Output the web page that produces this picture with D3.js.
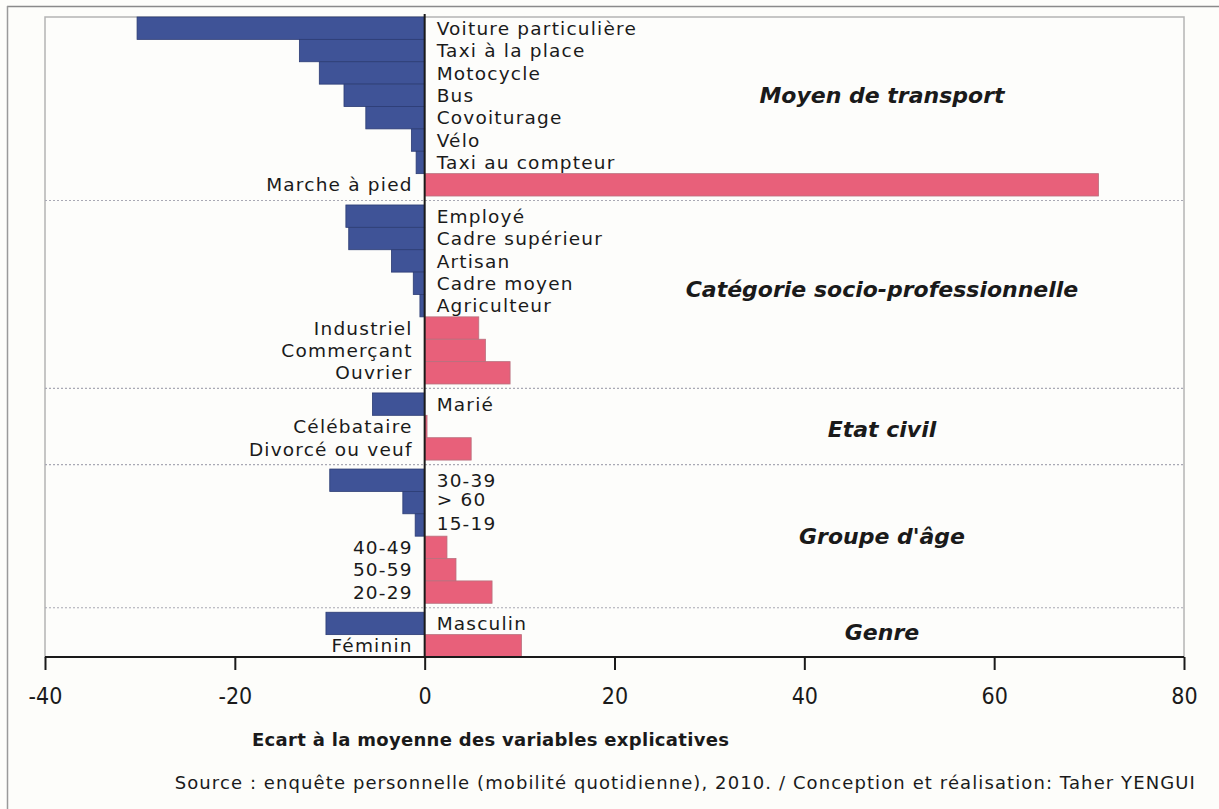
<!DOCTYPE html>
<html>
<head>
<meta charset="utf-8">
<script src="https://cdn.jsdelivr.net/npm/d3@7"></script>
<style>
  html, body { margin: 0; padding: 0; background: #fdfdfa; }
  svg { display: block; }
  text { font-family: "DejaVu Sans", sans-serif; fill: #1a1a1a; }
</style>
</head>
<body>
<svg id="chart" width="1219" height="809"></svg>
<script>
// Groups of explanatory variables, top to bottom
const groups = ["Moyen de transport", "Catégorie socio-professionnelle", "Etat civil", "Groupe d'âge", "Genre"];

const transportLabels = ["Voiture particulière", "Taxi à la place", "Motocycle", "Bus", "Covoiturage", "Vélo", "Taxi au compteur", "Marche à pied"];
const transportValues = [-30.3, -13.2, -11.1, -8.5, -6.2, -1.4, -0.9, 71.0];

const cspLabels = ["Employé", "Cadre supérieur", "Artisan", "Cadre moyen", "Agriculteur", "Industriel", "Commerçant", "Ouvrier"];
const cspValues = [-8.3, -8.0, -3.5, -1.2, -0.5, 5.7, 6.4, 9.0];

const civilLabels = ["Marié", "Célébataire", "Divorcé ou veuf"];
const civilValues = [-5.5, 0.25, 4.9];

const ageLabels = ["30-39", "> 60", "15-19", "40-49", "50-59", "20-29"];
const ageValues = [-10.0, -2.3, -1.0, 2.35, 3.3, 7.1];

const genreLabels = ["Masculin", "Féminin"];
const genreValues = [-10.4, 10.2];

const xTicks = [-40, -20, 0, 20, 40, 60, 80];
const xTitle = "Ecart à la moyenne des variables explicatives";
const sourceText = "Source : enquête personnelle (mobilité quotidienne), 2010. / Conception et réalisation: Taher YENGUI";

// Assemble rows from the arrays above
const groupLabels = [transportLabels, cspLabels, civilLabels, ageLabels, genreLabels];
const groupValues = [transportValues, cspValues, civilValues, ageValues, genreValues];

const GAP = 0.4; // space between groups, in row units
const rows = [];
const groupSpans = [];
let pos = 0;
groupLabels.forEach((labels, gi) => {
  const start = pos;
  labels.forEach((lab, i) => {
    rows.push({ label: lab, value: groupValues[gi][i], pos: pos, group: gi });
    pos += 1;
  });
  groupSpans.push({ name: groups[gi], start: start, end: pos });
  if (gi < groupLabels.length - 1) pos += GAP;
});
const totalUnits = pos;

const svg = d3.select("#chart");
const W = 1219, H = 809;
const plot = { left: 45, right: 1184, top: 17, bottom: 657 };

const x = d3.scaleLinear().domain([-40, 80]).range([plot.left, plot.right]);
const y = d3.scaleLinear().domain([0, totalUnits]).range([plot.top, plot.bottom]);

// Page background and outer frame
svg.append("rect").attr("width", W).attr("height", H).attr("fill", "#fdfdfa");
svg.append("line").attr("x1", 7).attr("x2", W).attr("y1", 6.5).attr("y2", 6.5)
  .attr("stroke", "#8a8a8a").attr("stroke-width", 1.5);
svg.append("line").attr("x1", 7.5).attr("x2", 7.5).attr("y1", 6).attr("y2", H)
  .attr("stroke", "#9a9a9a").attr("stroke-width", 1.5);

// Plot area frame
svg.append("rect")
  .attr("x", plot.left).attr("y", plot.top)
  .attr("width", plot.right - plot.left).attr("height", plot.bottom - plot.top)
  .attr("fill", "#fdfdfb").attr("stroke", "#b4b4b4").attr("stroke-width", 1.5);

// Dotted separators between groups
groupSpans.slice(0, -1).forEach(g => {
  const yy = y(g.end + GAP / 2);
  svg.append("line")
    .attr("x1", plot.left).attr("x2", plot.right)
    .attr("y1", yy).attr("y2", yy)
    .attr("stroke", "#a9a9b4").attr("stroke-width", 1.2)
    .attr("stroke-dasharray", "2,2");
});

// Bars
const rowH = y(1) - y(0);
svg.append("g").selectAll("rect").data(rows).join("rect")
  .attr("x", d => x(Math.min(0, d.value)))
  .attr("width", d => Math.abs(x(d.value) - x(0)))
  .attr("y", d => y(d.pos))
  .attr("height", rowH)
  .attr("fill", d => d.value < 0 ? "#3f5397" : "#e8607a")
  .attr("stroke", d => d.value < 0 ? "#2c3c74" : "#b8707e")
  .attr("stroke-width", 0.8);

// Small vertical nudges for crowded age labels
const labelNudge = { "> 60": -3, "15-19": -2 };

// Category labels: on the right of zero for negative bars, on the left for positive
svg.append("g").selectAll("text").data(rows).join("text")
  .attr("x", d => d.value < 0 ? x(0) + 12 : x(0) - 12)
  .attr("y", d => y(d.pos) + rowH / 2 + (labelNudge[d.label] || 0))
  .attr("dy", "0.36em")
  .attr("text-anchor", d => d.value < 0 ? "start" : "end")
  .attr("font-size", 18.5)
  .attr("letter-spacing", "1.2px")
  .text(d => d.label);

// Group titles
const titleShift = [-11, -5, 3, 0, -3];
svg.append("g").selectAll("text").data(groupSpans).join("text")
  .attr("x", 882)
  .attr("y", (d, i) => y((d.start + d.end) / 2) + titleShift[i])
  .attr("dy", "0.36em")
  .attr("text-anchor", "middle")
  .attr("font-size", 22)
  .attr("font-weight", "bold")
  .attr("font-style", "italic")
  .text(d => d.name);

// Zero line
svg.append("line")
  .attr("x1", x(0)).attr("x2", x(0))
  .attr("y1", plot.top - 3).attr("y2", plot.bottom)
  .attr("stroke", "#1a1a1a").attr("stroke-width", 2);

// X axis
const xAxis = d3.axisBottom(x).tickValues(xTicks).tickSize(13).tickPadding(18)
  .tickFormat(d => String(d));
const ax = svg.append("g").attr("transform", `translate(0,${plot.bottom})`).call(xAxis);
ax.select(".domain").attr("stroke", "#1a1a1a").attr("stroke-width", 2)
  .attr("d", `M${plot.left},0H${plot.right}`);
ax.selectAll(".tick line").attr("stroke", "#1a1a1a").attr("stroke-width", 2);
ax.selectAll(".tick text")
  .attr("font-size", 23)
  .attr("fill", "#1a1a1a")
  .style("font-family", "'DejaVu Sans Condensed', 'DejaVu Sans', sans-serif");

// Axis title
svg.append("text")
  .attr("x", 252).attr("y", 746)
  .attr("font-size", 18).attr("font-weight", "bold")
  .attr("letter-spacing", "0.3px")
  .text(xTitle);

// Source line
svg.append("text")
  .attr("x", 1196).attr("y", 789)
  .attr("text-anchor", "end")
  .attr("font-size", 18)
  .attr("letter-spacing", "1.1px")
  .text(sourceText);
</script>
</body>
</html>
